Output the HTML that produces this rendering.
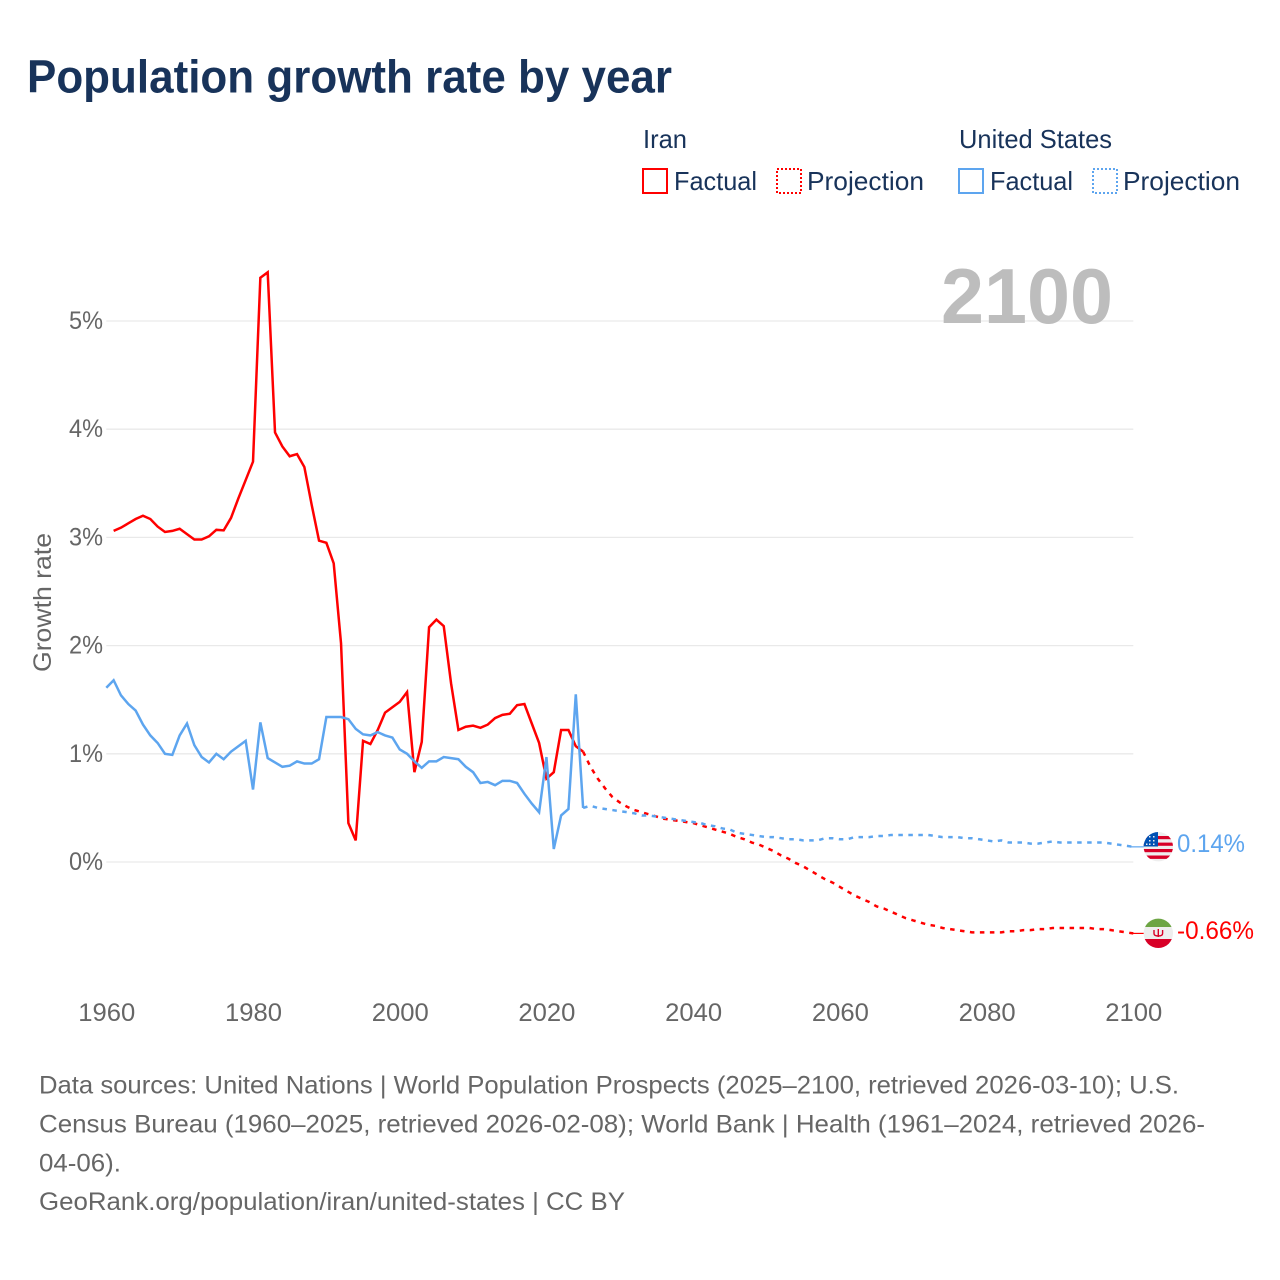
<!DOCTYPE html>
<html lang="en">
<head>
<meta charset="utf-8">
<title>Population growth rate by year</title>
<style>
html,body{margin:0;padding:0;background:#fff;width:1280px;height:1280px;overflow:hidden}
svg{display:block;font-family:"Liberation Sans",sans-serif}
</style>
</head>
<body>
<svg id="chart" width="1280" height="1280" viewBox="0 0 1280 1280" xmlns="http://www.w3.org/2000/svg">
  <defs>
    <clipPath id="flag-us-clip"><circle cx="1158.3" cy="846.7" r="14.7"/></clipPath>
    <clipPath id="flag-ir-clip"><circle cx="1158.3" cy="933.3" r="14.7"/></clipPath>
  </defs>

  <text x="27" y="92.5" font-size="46" font-weight="700" fill="#18335a" textLength="645" lengthAdjust="spacingAndGlyphs">Population growth rate by year</text>

  <g font-size="26" fill="#18335a">
    <text x="643" y="148" textLength="44" lengthAdjust="spacingAndGlyphs">Iran</text>
    <rect x="643" y="169" width="24" height="24" fill="none" stroke="#ff0000" stroke-width="2"/>
    <text x="674" y="190" textLength="83" lengthAdjust="spacingAndGlyphs">Factual</text>
    <rect x="777" y="169" width="24" height="24" fill="none" stroke="#ff0000" stroke-width="2" stroke-dasharray="2 2"/>
    <text x="807" y="190" textLength="117" lengthAdjust="spacingAndGlyphs">Projection</text>
    <text x="959" y="148" textLength="153" lengthAdjust="spacingAndGlyphs">United States</text>
    <rect x="959" y="169" width="24" height="24" fill="none" stroke="#5da5ef" stroke-width="2"/>
    <text x="990" y="190" textLength="83" lengthAdjust="spacingAndGlyphs">Factual</text>
    <rect x="1093" y="169" width="24" height="24" fill="none" stroke="#5da5ef" stroke-width="2" stroke-dasharray="2 2"/>
    <text x="1123" y="190" textLength="117" lengthAdjust="spacingAndGlyphs">Projection</text>
  </g>

  <g id="grid"></g>
  <g id="y-ticks"></g>
  <g id="x-ticks"></g>

  <text x="941" y="323" font-size="78" font-weight="700" fill="#bdbdbd" textLength="172" lengthAdjust="spacingAndGlyphs">2100</text>

  <text transform="translate(51,672) rotate(-90)" font-size="25" fill="#666666" textLength="139" lengthAdjust="spacingAndGlyphs">Growth rate</text>

  <g id="series"></g>

  <g clip-path="url(#flag-us-clip)">
    <rect x="1143" y="832" width="31" height="30" fill="#eeeeee"/>
    <rect x="1143" y="836" width="31" height="3.2" fill="#d80027"/>
    <rect x="1143" y="842.6" width="31" height="3.2" fill="#d80027"/>
    <rect x="1143" y="849" width="31" height="3.2" fill="#d80027"/>
    <rect x="1143" y="855.5" width="31" height="3.4" fill="#d80027"/>
    <rect x="1143" y="831" width="15" height="15.5" fill="#0052b4"/>
    <path d="M1149 836h1.5v1.5h-1.5zM1153 836h1.5v1.5h-1.5zM1149 840h1.5v1.5h-1.5zM1153 840h1.5v1.5h-1.5zM1149 843.5h1.5v1.5h-1.5zM1153 843.5h1.5v1.5h-1.5zM1146 843.5h1.5v1.5h-1.5z" fill="#eeeeee"/>
  </g>
  <text x="1177" y="852" font-size="25" fill="#5da5ef" textLength="68" lengthAdjust="spacingAndGlyphs">0.14%</text>

  <g clip-path="url(#flag-ir-clip)">
    <rect x="1143" y="918" width="31" height="31" fill="#eeeeee"/>
    <rect x="1143" y="918" width="31" height="9" fill="#6da544"/>
    <rect x="1143" y="939" width="31" height="10" fill="#d80027"/>
    <path d="M1154 930v3.5q0 2.5 4.3 2.5t4.3-2.5V930M1158.3 929v8" fill="none" stroke="#d80027" stroke-width="1.4"/>
  </g>
  <text x="1177" y="939" font-size="25" fill="#ff0000" textLength="77" lengthAdjust="spacingAndGlyphs">-0.66%</text>

  <g font-size="25" fill="#666666">
    <text x="39" y="1093.5" textLength="1140" lengthAdjust="spacingAndGlyphs">Data sources: United Nations | World Population Prospects (2025–2100, retrieved 2026-03-10); U.S.</text>
    <text x="39" y="1132.5" textLength="1166" lengthAdjust="spacingAndGlyphs">Census Bureau (1960–2025, retrieved 2026-02-08); World Bank | Health (1961–2024, retrieved 2026-</text>
    <text x="39" y="1171.5" textLength="82" lengthAdjust="spacingAndGlyphs">04-06).</text>
    <text x="39" y="1210" textLength="586" lengthAdjust="spacingAndGlyphs">GeoRank.org/population/iran/united-states | CC BY</text>
  </g>
</svg>

<script>
const yTickValues = [0, 1, 2, 3, 4, 5];
const yTickLabels = ["0%", "1%", "2%", "3%", "4%", "5%"];
const xTickValues = [1960, 1980, 2000, 2020, 2040, 2060, 2080, 2100];

const iranFactualStartYear = 1961;
const iranFactual = [3.06,3.09,3.13,3.17,3.20,3.17,3.10,3.05,3.06,3.08,3.03,2.98,2.98,3.01,3.07,3.065,3.18,3.36,3.53,3.70,5.40,5.45,3.97,3.84,3.75,3.77,3.65,3.30,2.97,2.95,2.76,2.02,0.36,0.20,1.12,1.09,1.22,1.38,1.43,1.48,1.57,0.83,1.11,2.17,2.24,2.18,1.65,1.22,1.25,1.26,1.24,1.27,1.33,1.36,1.37,1.45,1.46,1.28,1.10,0.77,0.83,1.22,1.22,1.07,1.02];

const iranProjectionStartYear = 2025;
const iranProjection = [1.02,0.88,0.77,0.68,0.60,0.55,0.51,0.48,0.46,0.44,0.42,0.40,0.39,0.38,0.37,0.36,0.34,0.32,0.30,0.28,0.26,0.23,0.21,0.18,0.16,0.13,0.10,0.06,0.03,-0.01,-0.04,-0.08,-0.12,-0.16,-0.19,-0.23,-0.27,-0.31,-0.34,-0.37,-0.41,-0.43,-0.46,-0.49,-0.52,-0.54,-0.56,-0.58,-0.59,-0.61,-0.62,-0.63,-0.64,-0.65,-0.65,-0.65,-0.65,-0.65,-0.64,-0.64,-0.63,-0.63,-0.62,-0.62,-0.61,-0.61,-0.61,-0.61,-0.61,-0.61,-0.62,-0.62,-0.63,-0.64,-0.65,-0.66];

const usFactualStartYear = 1960;
const usFactual = [1.61,1.68,1.54,1.46,1.40,1.27,1.17,1.10,1.00,0.99,1.17,1.28,1.08,0.97,0.92,1.00,0.95,1.02,1.07,1.12,0.67,1.29,0.96,0.92,0.88,0.89,0.93,0.91,0.91,0.95,1.34,1.34,1.34,1.32,1.23,1.18,1.17,1.20,1.17,1.15,1.04,1.00,0.93,0.87,0.93,0.93,0.97,0.96,0.95,0.88,0.83,0.73,0.74,0.71,0.75,0.75,0.73,0.63,0.54,0.46,0.97,0.12,0.43,0.49,1.55,0.50];

const usProjectionStartYear = 2025;
const usProjection = [0.50,0.52,0.50,0.49,0.48,0.47,0.46,0.45,0.43,0.43,0.42,0.41,0.40,0.39,0.38,0.37,0.36,0.34,0.33,0.31,0.30,0.27,0.26,0.25,0.24,0.23,0.23,0.22,0.21,0.21,0.20,0.20,0.20,0.22,0.22,0.21,0.21,0.23,0.23,0.23,0.24,0.24,0.25,0.25,0.25,0.25,0.25,0.25,0.24,0.23,0.23,0.23,0.22,0.22,0.21,0.20,0.19,0.20,0.18,0.18,0.18,0.17,0.17,0.18,0.19,0.18,0.18,0.18,0.18,0.18,0.18,0.18,0.17,0.16,0.15,0.14];

const SVG_NS = "http://www.w3.org/2000/svg";
const plotLeft = 106.3, plotRight = 1133.3, zeroY = 862, pxPerPercent = 108.2;

function xScale(year) { return plotLeft + (year - 1960) * (plotRight - plotLeft) / 140; }
function yScale(value) { return zeroY - value * pxPerPercent; }

function linePath(values, startYear) {
  return values.map(function (v, i) {
    return (i ? "L" : "M") + xScale(startYear + i).toFixed(2) + " " + yScale(v).toFixed(2);
  }).join("");
}

const gridLayer = document.getElementById("grid");
const yTickLayer = document.getElementById("y-ticks");
const xTickLayer = document.getElementById("x-ticks");
const seriesLayer = document.getElementById("series");

yTickValues.forEach(function (v, i) {
  const line = document.createElementNS(SVG_NS, "line");
  line.setAttribute("x1", plotLeft);
  line.setAttribute("x2", plotRight);
  line.setAttribute("y1", yScale(v));
  line.setAttribute("y2", yScale(v));
  line.setAttribute("stroke", "#e9e9e9");
  line.setAttribute("stroke-width", "1.3");
  
  
  gridLayer.appendChild(line);

  const label = document.createElementNS(SVG_NS, "text");
  label.textContent = yTickLabels[i];
  label.setAttribute("x", 69);
  label.setAttribute("y", yScale(v) + 8);
  label.setAttribute("font-size", "25");
  label.setAttribute("fill", "#666666");
  label.setAttribute("textLength", "34");
  label.setAttribute("lengthAdjust", "spacingAndGlyphs");
  
  
  yTickLayer.appendChild(label);
});

xTickValues.forEach(function (year) {
  const label = document.createElementNS(SVG_NS, "text");
  label.textContent = String(year);
  label.setAttribute("x", xScale(year) - 28);
  label.setAttribute("y", 1021);
  label.setAttribute("font-size", "25");
  label.setAttribute("fill", "#666666");
  label.setAttribute("textLength", "57");
  label.setAttribute("lengthAdjust", "spacingAndGlyphs");
  
  
  xTickLayer.appendChild(label);
});

function addLeader(values, color, name) {
  const last = values[values.length - 1];
  const leader = document.createElementNS(SVG_NS, "line");
  leader.setAttribute("x1", plotRight - 3);
  leader.setAttribute("x2", 1144);
  leader.setAttribute("y1", yScale(last));
  leader.setAttribute("y2", yScale(last));
  leader.setAttribute("stroke", color);
  leader.setAttribute("stroke-width", "1.2");
  
  
  seriesLayer.appendChild(leader);
}

function addLine(values, startYear, color, dashed, name) {
  const path = document.createElementNS(SVG_NS, "path");
  path.setAttribute("d", linePath(values, startYear));
  path.setAttribute("fill", "none");
  path.setAttribute("stroke", color);
  path.setAttribute("stroke-width", "2.5");
  path.setAttribute("stroke-linejoin", "miter");
  if (dashed) path.setAttribute("stroke-dasharray", "4.5 5.5");
  
  
  seriesLayer.appendChild(path);
}

addLine(iranFactual, iranFactualStartYear, "#ff0000", false, "iran-factual-line");
addLine(iranProjection, iranProjectionStartYear, "#ff0000", true, "iran-projection-line");
addLine(usFactual, usFactualStartYear, "#5da5ef", false, "us-factual-line");
addLine(usProjection, usProjectionStartYear, "#5da5ef", true, "us-projection-line");
addLeader(iranProjection, "#ff0000", "iran-end-leader");
addLeader(usProjection, "#5da5ef", "us-end-leader");
</script>
</body>
</html>
